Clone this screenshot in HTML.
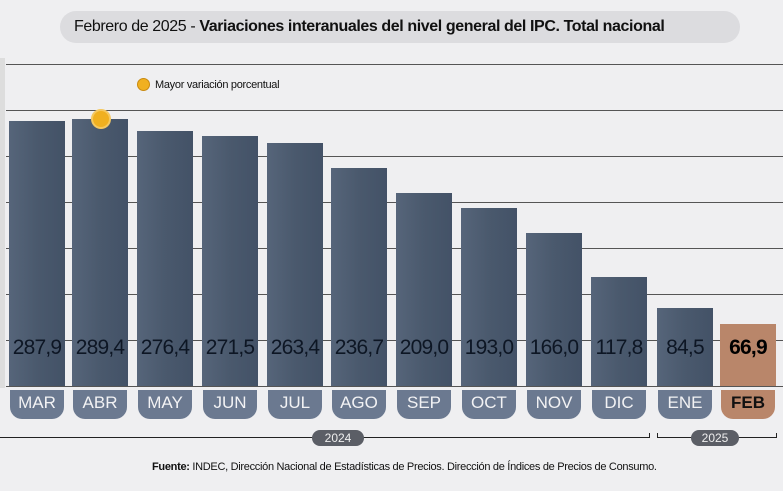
<!DOCTYPE html><html><head><style>
body{margin:0;width:783px;height:491px;background:#efeff1;font-family:"Liberation Sans",sans-serif;position:relative;overflow:hidden}
.a{position:absolute}
.t{left:60px;top:11px;width:680px;height:32px;background:#dcdcdf;border-radius:16px;font-size:16px;line-height:32px;padding-left:14px;box-sizing:border-box;color:#111;letter-spacing:-0.4px}
.g{left:6px;width:777px;height:1px;background:#555}
.b{background:linear-gradient(90deg,#56657a,#4a596d 50%,#435267);}
.v{font-size:21px;color:#0d1624;text-align:center;letter-spacing:-0.8px;top:336px}
.p{top:390px;height:29px;background:#6b7990;border-radius:0 0 12px 12px;color:#f2f2f4;font-size:17px;text-align:center;line-height:26px}
</style></head><body>
<div class="a t">Febrero de 2025 - <b>Variaciones interanuales del nivel general del IPC. Total nacional</b></div>
<div class="a" style="left:0;top:58px;width:5px;height:330px;background:#ddd"></div>
<div class="a g" style="top:64px"></div><div class="a g" style="top:110px"></div><div class="a g" style="top:156px"></div><div class="a g" style="top:202px"></div><div class="a g" style="top:248px"></div><div class="a g" style="top:294px"></div><div class="a g" style="top:340px"></div><div class="a g" style="top:386px"></div>
<div class="a" style="left:137px;top:78px;width:13px;height:13px;border-radius:50%;background:#f0b020;border:1px solid #c98a10;box-sizing:border-box"></div>
<div class="a" style="left:155px;top:79px;font-size:11px;color:#111;letter-spacing:-0.3px">Mayor variación porcentual</div>
<div id="bars"></div>
<script>
var d=[["MAR",9,121,"287,9"],["ABR",72,119,"289,4"],["MAY",137,131,"276,4"],["JUN",202,136,"271,5"],["JUL",267,143,"263,4"],["AGO",331,168,"236,7"],["SEP",396,193,"209,0"],["OCT",461,208,"193,0"],["NOV",526,233,"166,0"],["DIC",591,277,"117,8"],["ENE",657,308,"84,5"],["FEB",720,324,"66,9"]];
var h="";d.forEach(function(e,i){var f=i==11;h+='<div class="a '+(f?'':'b')+'" style="left:'+e[1]+'px;top:'+e[2]+'px;width:56px;height:'+(386-e[2])+'px;'+(f?'background:#b9866a':'')+'"></div>';
h+='<div class="a v" style="left:'+(e[1]-6)+'px;width:68px;'+(f?'font-weight:bold;color:#000':'')+'">'+e[3]+'</div>';
h+='<div class="a p" style="left:'+(e[1]+1)+'px;width:54px;'+(f?'background:#b9866a;color:#111;font-weight:bold':'')+'">'+e[0]+'</div>';});
document.getElementById("bars").innerHTML=h;
</script>
<div class="a" style="left:0;top:437px;width:650px;height:1px;background:#222"></div>
<div class="a" style="left:649px;top:433px;width:1px;height:5px;background:#222"></div>
<div class="a" style="left:657px;top:437px;width:120px;height:1px;background:#222"></div>
<div class="a" style="left:657px;top:433px;width:1px;height:5px;background:#222"></div>
<div class="a" style="left:776px;top:433px;width:1px;height:5px;background:#222"></div>
<div class="a" style="left:312px;top:430px;width:52px;height:16px;border-radius:8px;background:#5b5e66;color:#eee;font-size:12px;text-align:center;line-height:16px">2024</div>
<div class="a" style="left:691px;top:430px;width:48px;height:16px;border-radius:8px;background:#5b5e66;color:#eee;font-size:12px;text-align:center;line-height:16px">2025</div>
<div class="a" style="left:152px;top:461px;font-size:11px;color:#111;letter-spacing:-0.3px"><b>Fuente:</b> INDEC, Dirección Nacional de Estadísticas de Precios. Dirección de Índices de Precios de Consumo.</div>
<div class="a" style="left:91px;top:109px;width:20px;height:20px;border-radius:50%;background:#f0b020;border:2px solid #f5c860;box-sizing:border-box"></div>
</body></html>
